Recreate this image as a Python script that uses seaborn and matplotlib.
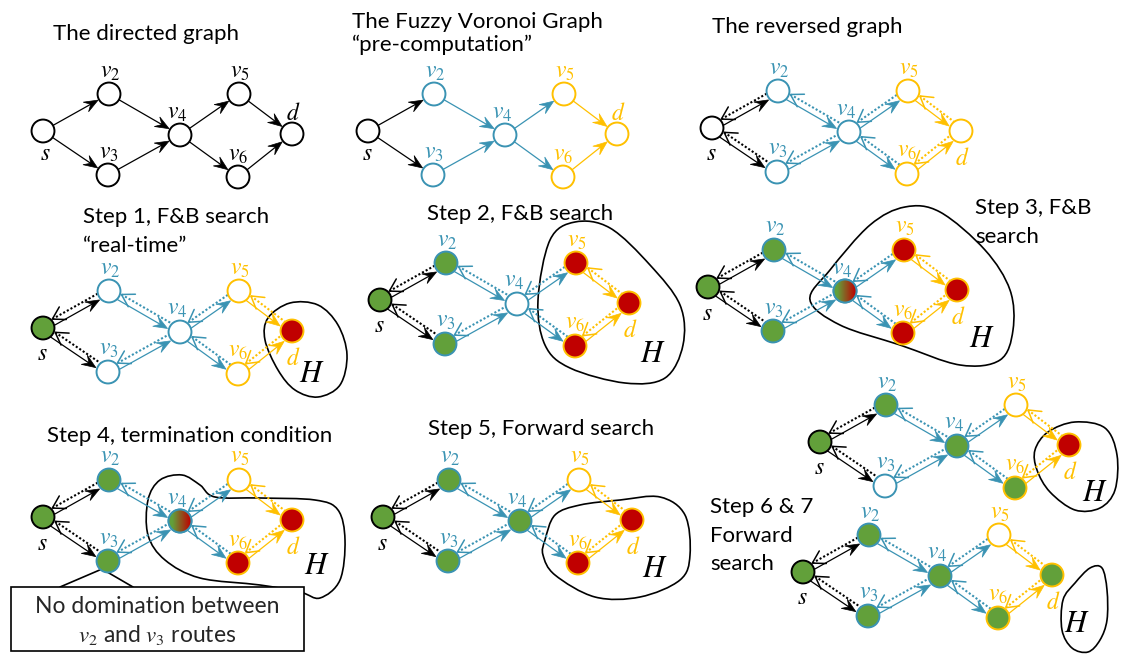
import numpy as np
import pandas as pd
import matplotlib
matplotlib.use("Agg")
import matplotlib.pyplot as plt
import seaborn as sns
from matplotlib.path import Path
from matplotlib.patches import PathPatch, Polygon, Circle, Rectangle

# ---------------- graph data ----------------
node_names = ["s", "v2", "v3", "v4", "v5", "v6", "d"]
node_labels = ["$s$", "$v_2$", "$v_3$", "$v_4$", "$v_5$", "$v_6$", "$d$"]
node_dx = [0, 66, 65, 137, 196, 195, 249]
node_dy = [0, -37, 44, 4, -37, 46, 3]
node_group = ["s", "b", "b", "b", "y", "y", "y"]

edge_src = ["s", "s", "v2", "v3", "v4", "v4", "v5", "v6"]
edge_dst = ["v2", "v3", "v4", "v4", "v5", "v6", "d", "d"]

# ---------------- panels ----------------
panel_sx = [43, 368, 712, 43, 380, 708, 43, 383, 820, 803]
panel_sy = [131, 131, 128, 328, 300, 287, 517, 517, 442, 572]
panel_coloured = [False, True, True, True, True, True, True, True, True, True]
panel_reversed = [False, False, True, True, True, True, True, True, True, True]
panel_fill = ["wwwwwww", "wwwwwww", "wwwwwww", "gwwwwwr", "gggwrrr",
              "gggxrrr", "gggxwrr", "ggggwrr", "ggwgwgr", "ggggwgg"]

title_lines = ["The directed graph", "The Fuzzy Voronoi Graph", "\u201cpre-computation\u201d",
               "The reversed graph", "Step 1, F&B search", "\u201creal-time\u201d",
               "Step 2, F&B search", "Step 3, F&B", "search",
               "Step 4, termination condition", "Step 5, Forward search",
               "Step 6 & 7", "Forward", "search"]
title_x = [53, 352, 352, 712, 83, 83, 427, 975, 975, 47, 428, 710, 710, 710]
title_y = [40, 28, 51, 33, 223, 252, 220, 214, 243, 442, 435, 513, 542, 570]

# H regions (panel index -> outline points)
blob_panel = [3, 4, 5, 6, 7, 8, 9]
blob_x = [
    [268, 290, 318, 338, 347, 340, 318, 295, 278, 265],
    [550, 575, 610, 650, 680, 683, 665, 625, 570, 545, 538],
    [810, 830, 870, 905, 940, 985, 1010, 1013, 1000, 960, 900, 840],
    [148, 160, 182, 200, 215, 260, 315, 338, 345, 340, 320, 300, 260, 200, 165, 148],
    [545, 555, 580, 620, 660, 685, 690, 680, 640, 595, 555, 543],
    [1035, 1048, 1075, 1105, 1117, 1115, 1100, 1075, 1050, 1037],
    [1063, 1075, 1090, 1102, 1107, 1107, 1100, 1088, 1072, 1062],
]
blob_y = [
    [318, 303, 305, 325, 355, 385, 397, 390, 370, 340],
    [240, 222, 228, 265, 305, 345, 378, 383, 368, 345, 300],
    [300, 270, 225, 207, 212, 250, 290, 330, 360, 365, 345, 325],
    [500, 480, 475, 485, 497, 498, 500, 510, 540, 580, 598, 592, 585, 578, 560, 535],
    [540, 515, 505, 500, 497, 515, 555, 580, 597, 597, 575, 555],
    [450, 432, 422, 428, 455, 490, 508, 510, 492, 470],
    [600, 583, 568, 568, 590, 620, 640, 652, 648, 630],
]
H_x = [312, 653, 982, 317, 655, 1095, 1077]
H_y = [373, 353, 338, 565, 568, 492, 623]

box_lines = ["No domination between", "$v_2$ and $v_3$ routes"]

# ---------------- style ----------------
sns.set_theme(style="white")
plt.rcParams["font.family"] = ["Lato", "DejaVu Sans"]
plt.rcParams["mathtext.fontset"] = "stix"

BLUE = "#3a93b3"
YELLOW = "#ffc000"
GREEN = "#62a03a"
RED = "#c00000"
group_color = {"s": "black", "b": BLUE, "y": YELLOW}
fill_color = {"w": "white", "g": GREEN, "r": RED, "x": "white"}
R = 11.5

fig = plt.figure(figsize=(11.23, 6.55), dpi=100)
ax = fig.add_axes([0, 0, 1, 1])

idx = {n: i for i, n in enumerate(node_names)}


def stealth(tip, t, n, L=14, W=11, color="black"):
    pts = np.array([tip, tip - L * t + W / 2 * n, tip - 0.6 * L * t, tip - L * t - W / 2 * n])
    ax.add_patch(Polygon(pts, closed=True, facecolor=color, edgecolor=color, lw=0.5, zorder=3))


def rot(v, a):
    return np.array([v[0] * np.cos(a) - v[1] * np.sin(a), v[0] * np.sin(a) + v[1] * np.cos(a)])


label_shift = {"v2": 1, "v3": 1, "v4": -3, "v5": 1, "v6": 0}

rows = []
for p in range(len(panel_sx)):
    px = np.array(node_dx) + panel_sx[p]
    py = np.array(node_dy) + panel_sy[p]
    cols = [group_color[g] if panel_coloured[p] else "black" for g in node_group]
    # edges
    for a, b in zip(edge_src, edge_dst):
        pa = np.array([px[idx[a]], py[idx[a]]], float)
        pb = np.array([px[idx[b]], py[idx[b]]], float)
        t = (pb - pa) / np.linalg.norm(pb - pa)
        n = np.array([-t[1], t[0]])
        c = cols[idx[a]]
        if not panel_reversed[p]:
            st = pa + R * t
            en = pb - (R + 1) * t
            ax.plot([st[0], en[0] - 8 * t[0]], [st[1], en[1] - 8 * t[1]], color=c, lw=0.9, zorder=2)
            stealth(en, t, n, color=c)
        else:
            o = 3.2
            st = pa + R * t + o * n
            en = pb - (R + 1) * t + o * n
            ax.plot([st[0], en[0] - 8 * t[0]], [st[1], en[1] - 8 * t[1]], color=c, lw=0.9, zorder=2)
            stealth(en, t, n, color=c)
            # reversed dotted edge with open head at source
            st2 = pa + (R + 1) * t - o * n
            en2 = pb - R * t - o * n
            ax.plot([st2[0], en2[0]], [st2[1], en2[1]], color=c, lw=1.5,
                    linestyle=(0, (1, 1)), zorder=2)
            th = np.deg2rad(31)
            r1, r2 = rot(t, th), rot(t, -th)
            arm = 14
            ax.plot([st2[0] + arm * r1[0], st2[0], st2[0] + arm * r2[0]],
                    [st2[1] + arm * r1[1], st2[1], st2[1] + arm * r2[1]],
                    color=c, lw=1.1, zorder=2, solid_joinstyle="miter")
    # labels
    for i, name in enumerate(node_names):
        lc = cols[i]
        if name == "s":
            ax.text(px[i] + (2 if p == 0 else -1), py[i] + (23 if p < 2 else 26), node_labels[i],
                    fontsize=17, color=lc, ha="center", va="center", zorder=6)
        elif name == "d":
            dy = -21 if p < 2 else 27
            ax.text(px[i] + 1, py[i] + dy, node_labels[i], fontsize=17, color=lc,
                    ha="center", va="center", zorder=6)
        else:
            ax.text(px[i] + label_shift[name], py[i] - 22, node_labels[i], fontsize=17, color=lc,
                    ha="center", va="center", zorder=6)
    for i in range(len(node_names)):
        f = panel_fill[p][i]
        ec = cols[i]
        if f == "r":
            ec = YELLOW
        rows.append(dict(x=px[i], y=py[i], fill=f, edge=ec))

nodes = pd.DataFrame(rows)
sns.scatterplot(data=nodes, x="x", y="y", hue="fill", palette=fill_color,
                edgecolor=nodes["edge"].tolist(), linewidth=1.4, s=272,
                legend=False, ax=ax, zorder=5)

# gradient nodes (v4 partly reached from both sides)
grad = np.zeros((2, 64, 3))
c1 = np.array(matplotlib.colors.to_rgb(GREEN))
c2 = np.array(matplotlib.colors.to_rgb(RED))
for k in range(64):
    f = min(1, max(0, (k / 63 - 0.15) / 0.8))
    grad[:, k, :] = c1 * (1 - f) + c2 * f
g = nodes[nodes["fill"] == "x"]
for _, r in g.iterrows():
    circ = Circle((r.x, r.y), R, transform=ax.transData)
    im = ax.imshow(grad, extent=(r.x - R, r.x + R, r.y + R, r.y - R), aspect="auto", zorder=6)
    im.set_clip_path(circ)
    ax.add_patch(Circle((r.x, r.y), R, facecolor="none", edgecolor=r.edge, lw=1.4, zorder=7))

# H regions
for bp, bx, by, hx, hy in zip(blob_panel, blob_x, blob_y, H_x, H_y):
    P = np.column_stack([bx, by]).astype(float)
    n = len(P)
    verts = [P[0]]
    codes = [Path.MOVETO]
    for i in range(n):
        p0, p1, p2, p3 = P[i - 1], P[i], P[(i + 1) % n], P[(i + 2) % n]
        verts += [p1 + (p2 - p0) / 6, p2 - (p3 - p1) / 6, p2]
        codes += [Path.CURVE4] * 3
    ax.add_patch(PathPatch(Path(verts, codes), facecolor="none", edgecolor="black", lw=1.2, zorder=1))
    ax.text(hx, hy, "$H$", fontsize=22, ha="center", va="center", color="black", zorder=6)

# titles
for s, x, y in zip(title_lines, title_x, title_y):
    ax.text(x, y, s, fontsize=16, ha="left", va="baseline", color="black", zorder=6)

# callout box
v3x = panel_sx[6] + node_dx[2]
v3y = panel_sy[6] + node_dy[2]
ax.plot([60, v3x - 6, 133], [587, v3y + 8, 587], color="black", lw=1.2, zorder=1)
ax.add_patch(Rectangle((11, 587), 293, 64, facecolor="white", edgecolor="black", lw=1.2, zorder=4))
ax.text(157, 613, box_lines[0], fontsize=16.5, ha="center", va="baseline", zorder=6)
ax.text(157, 642, box_lines[1], fontsize=16.5, ha="center", va="baseline", zorder=6)

ax.set_xlim(0, 1123)
ax.set_ylim(655, 0)
ax.axis("off")
fig.savefig("out.png", dpi=100)
